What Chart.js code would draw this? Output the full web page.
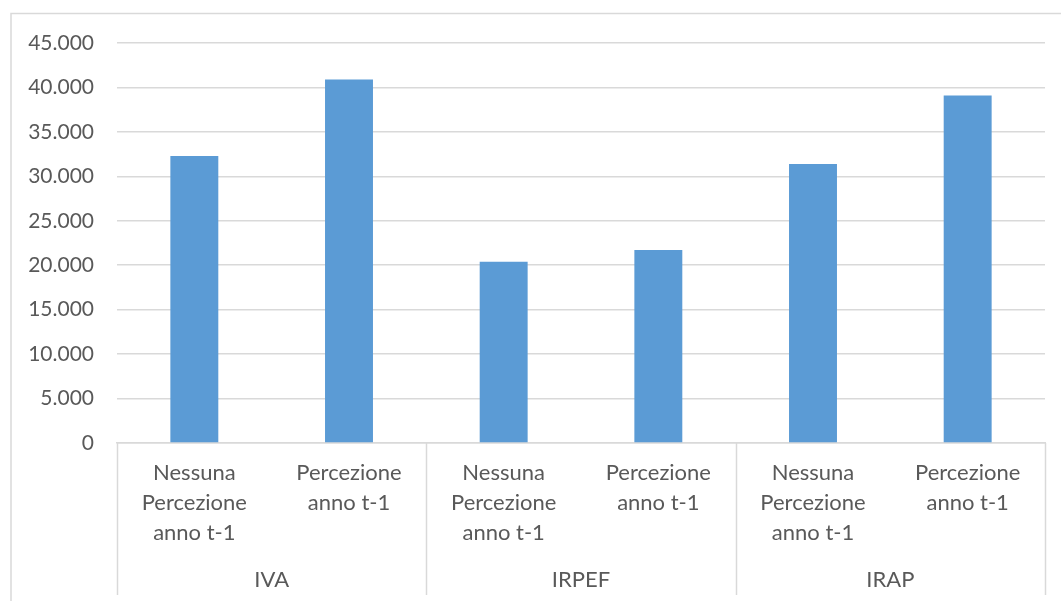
<!DOCTYPE html>
<html lang="it">
<head>
<meta charset="utf-8">
<title>Percezione anno t-1 per imposta</title>
<script src="https://cdn.jsdelivr.net/npm/chart.js@4/dist/chart.umd.min.js"></script>
<style>
  html, body { margin: 0; padding: 0; background: #ffffff; }
  #wrap { width: 1061px; height: 601px; overflow: hidden; }
</style>
</head>
<body>
<div id="wrap"><canvas id="chart" width="1061" height="601"></canvas></div>
<script>
// Sub-categories (multi-line) and the tax each pair belongs to
const subLabels = [
  ['Nessuna', 'Percezione', 'anno t-1'],
  ['Percezione', 'anno t-1'],
  ['Nessuna', 'Percezione', 'anno t-1'],
  ['Percezione', 'anno t-1'],
  ['Nessuna', 'Percezione', 'anno t-1'],
  ['Percezione', 'anno t-1']
];
const groupLabels = ['IVA', 'IRPEF', 'IRAP'];
const groupSize = 2;

// Values per bar
const values = [32300, 40900, 20400, 21700, 31400, 39100];

// Value axis ticks
const yMin = 0;
const yMax = 45000;
const yStep = 5000;

const textColor = '#595959';
const lineColor = '#d9d9d9';
const fontFamily = 'Lato, "Open Sans", "Liberation Sans", sans-serif';

function fmtIt(v) {
  return String(Math.round(v)).replace(/\B(?=(\d{3})+(?!\d))/g, '.');
}

// Outer frame of the chart
const framePlugin = {
  id: 'frame',
  beforeDraw(chart) {
    const ctx = chart.ctx;
    ctx.save();
    ctx.strokeStyle = lineColor;
    ctx.lineWidth = 1.5;
    ctx.strokeRect(11, 13.5, 1080, 620);
    ctx.restore();
  }
};

// Second level of the category axis: separators and tax names
const groupAxisPlugin = {
  id: 'groupAxis',
  afterDraw(chart) {
    const xs = chart.scales.x;
    const ctx = chart.ctx;
    const half = (xs.getPixelForValue(1) - xs.getPixelForValue(0)) / 2;
    const top = xs.top;
    const bottom = 595;
    ctx.save();
    ctx.strokeStyle = lineColor;
    ctx.lineWidth = 1.5;
    ctx.fillStyle = textColor;
    ctx.font = '22px ' + fontFamily;
    ctx.textAlign = 'center';
    ctx.textBaseline = 'middle';
    groupLabels.forEach((g, gi) => {
      const first = gi * groupSize;
      const last = first + groupSize - 1;
      const left = xs.getPixelForValue(first) - half;
      const right = xs.getPixelForValue(last) + half;
      ctx.beginPath();
      ctx.moveTo(Math.round(left) + 0.5, top);
      ctx.lineTo(Math.round(left) + 0.5, bottom);
      if (gi === groupLabels.length - 1) {
        ctx.moveTo(Math.round(right) + 0.5, top);
        ctx.lineTo(Math.round(right) + 0.5, bottom);
      }
      ctx.stroke();
      ctx.fillText(g, (left + right) / 2, 580);
    });
    ctx.restore();
  }
};

new Chart(document.getElementById('chart'), {
  type: 'bar',
  data: {
    labels: subLabels,
    datasets: [{
      data: values,
      backgroundColor: '#5b9bd5',
      borderWidth: 0,
      barPercentage: 0.31,
      categoryPercentage: 1.0
    }]
  },
  options: {
    responsive: false,
    animation: false,
    devicePixelRatio: 1,
    layout: { padding: { left: 0, right: 16, top: 43, bottom: 0 } },
    plugins: {
      legend: { display: false },
      tooltip: { enabled: false }
    },
    scales: {
      x: {
        type: 'category',
        grid: { display: false, drawTicks: false },
        border: { display: true, color: lineColor, width: 1.5 },
        ticks: {
          color: textColor,
          font: { family: fontFamily, size: 22, lineHeight: 1.36 },
          padding: 15,
          maxRotation: 0,
          minRotation: 0,
          autoSkip: false
        },
        afterFit(scale) { scale.height = 158; }
      },
      y: {
        min: yMin,
        max: yMax,
        grid: { color: lineColor, lineWidth: 1.5, drawTicks: false },
        border: { display: false },
        ticks: {
          stepSize: yStep,
          color: textColor,
          font: { family: fontFamily, size: 21 },
          padding: 23,
          callback: (v) => fmtIt(v)
        },
        afterFit(scale) { scale.width = 117; }
      }
    }
  },
  plugins: [framePlugin, groupAxisPlugin]
});
</script>
</body>
</html>
